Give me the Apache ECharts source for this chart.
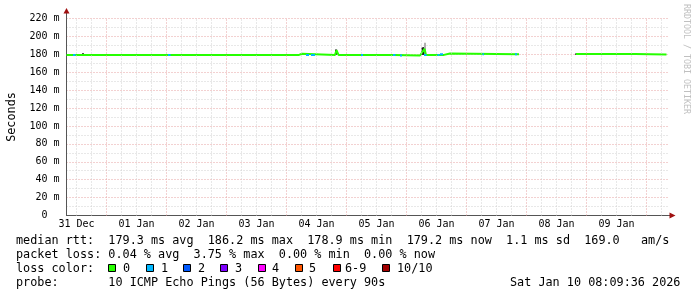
<!DOCTYPE html>
<html><head><meta charset="utf-8">
<script src="https://cdn.jsdelivr.net/npm/echarts@6/dist/echarts.min.js"></script>
<style>html,body{margin:0;padding:0;background:#fff;}#c{width:697px;height:297px;}</style>
</head><body><div id="c"></div>
<script>
// x values: hours since 31 Dec 00:00
const xStart = 8, xEnd = 248.8;
const dayLabels = ['31 Dec','01 Jan','02 Jan','03 Jan','04 Jan','05 Jan','06 Jan','07 Jan','08 Jan','09 Jan'];
const dayLabelHours = [12,36,60,84,108,132,156,180,204,228];
const yTickValues = [0,20,40,60,80,100,120,140,160,180,200,220];

// median rtt (ms), loss 0 colour; null = no data
const medianHours = [8.0,101.0,101.4,102.2,102.6,115.4,116.0,116.4,116.8,139.0,139.8,149.4,149.8,151.2,151.8,159.0,159.8,161.4,161.8,189.0,189.4,211.8,235.4,235.8,248.0];
const medianMs    = [179.35,179.35,180.6,180.6,179.35,179.35,184.6,184.6,179.35,179.35,178.7,178.7,179.35,186.2,179.35,179.35,181.0,181.0,180.2,180.2,null,180.3,180.3,179.7,179.7];

// loss 1/10 segments
const loss1Start = [10.6,48.6,103.8,105.8,125.8,138.6,141.4,151.0,156.4,157.4,174.4,187.4];
const loss1End   = [11.6,49.6,105.0,107.4,126.6,139.6,142.2,152.0,157.2,158.6,175.0,188.2];
const loss1Ms    = [179.35,179.35,179.35,179.35,179.35,179.35,178.7,179.35,179.35,180.2,180.2,180.2];

// smoke (ping spread)
const smokeHours = [14.6,115.8,150.4,150.8,151.4,211.8];
const smokeLow   = [179.6,179.4,179.4,179.4,183.0,179.5];
const smokeHigh  = [181.2,185.5,187.5,188.0,193.0,181.0];
const smokeDark  = [1,1,1,1,0,1];

const lossColors = ['#26ff00','#00b8ff','#0059ff','#7e00ff','#ff00ff','#ff5500','#ff0000','#a10000'];
const lossNames  = ['0','1','2','3','4','5','6-9','10/10'];

const legendLines = [
  'median rtt:  179.3 ms avg  186.2 ms max  178.9 ms min  179.2 ms now  1.1 ms sd  169.0   am/s',
  'packet loss: 0.04 % avg  3.75 % max  0.00 % min  0.00 % now',
  'loss color:',
  'probe:       10 ICMP Echo Pings (56 Bytes) every 90s'
];
const stampText = 'Sat Jan 10 08:09:36 2026';

const majorGrid = [], minorGrid = [];
for (let h = 12; h < xEnd; h += 6) { (h % 24 === 0 ? majorGrid : minorGrid).push(h); }

const medianData = medianHours.map((h,i)=>[h, medianMs[i]===null ? '-' : medianMs[i]]);
const loss1Data = [];
loss1Start.forEach((s,i)=>{ loss1Data.push([s, loss1Ms[i]]); loss1Data.push([loss1End[i], loss1Ms[i]]); loss1Data.push([loss1End[i]+0.01,'-']); });
const smokeData = smokeHours.map((h,i)=>[h, smokeLow[i], smokeHigh[i], smokeDark[i]]);

const MONO = 'DejaVu Sans Mono';
const FS = 11.8;
const gridLeft = 66.5, gridTop = 18.5, gridW = 602, gridH = 197;
const MAJOR = '#e6a3a3', MINOR = '#d0d0d0';

const graphics = [];
// axis extensions and arrows
graphics.push({type:'line', shape:{x1:66.5,y1:13,x2:66.5,y2:18.5}, style:{stroke:'#555',lineWidth:1}, z:10});
graphics.push({type:'line', shape:{x1:668.5,y1:215.5,x2:670,y2:215.5}, style:{stroke:'#555',lineWidth:1}, z:10});
graphics.push({type:'polygon', shape:{points:[[66.5,8],[63.5,13.5],[69.5,13.5]]}, style:{fill:'#a01010'}, z:10});
graphics.push({type:'polygon', shape:{points:[[675.5,215.5],[669.5,212.5],[669.5,218.5]]}, style:{fill:'#a01010'}, z:10});
// legend text
const lineY = [241, 255, 268.5, 283];
legendLines.forEach((t,i)=>{
  graphics.push({type:'text', x:16, y:lineY[i], style:{text:t, font:FS+'px "'+MONO+'"', fill:'#000', textVerticalAlign:'middle'}});
});
graphics.push({type:'text', x:510, y:lineY[3], style:{text:stampText, font:FS+'px "'+MONO+'"', fill:'#000', textVerticalAlign:'middle'}});
const boxX = [108,146,183,220,258,295,333,382];
const boxTextX = [123,161,198,235,272,309,345,397];
lossColors.forEach((c,i)=>{
  graphics.push({type:'rect', shape:{x:boxX[i]+0.5,y:264.5,width:7,height:7}, style:{fill:c, stroke:'#000', lineWidth:1}});
  graphics.push({type:'text', x:boxTextX[i], y:lineY[2], style:{text:lossNames[i], font:FS+'px "'+MONO+'"', fill:'#000', textVerticalAlign:'middle'}});
});
// watermark
graphics.push({type:'text', x:686, y:59, rotation:-Math.PI/2, style:{text:'RRDTOOL / TOBI OETIKER', font:'8.3px "'+MONO+'"', fill:'#c0c0c0', textAlign:'center', textVerticalAlign:'middle'}});

const chart = echarts.init(document.getElementById('c'), null, {renderer:'canvas'});
chart.setOption({
  animation:false,
  backgroundColor:'#fff',
  grid:{left:gridLeft, top:gridTop, width:gridW, height:gridH, containLabel:false, outerBoundsMode:'none'},
  xAxis:{
    type:'value', min:xStart, max:xEnd,
    axisLine:{show:true, lineStyle:{color:'#555', width:1}},
    axisTick:{show:false},
    splitLine:{show:false},
    axisLabel:{customValues:dayLabelHours, margin:4, fontFamily:MONO, fontSize:10, color:'#000',
      formatter:v=>{const k=dayLabelHours.indexOf(v); return k>=0?dayLabels[k]:'';}}
  },
  yAxis:{
    type:'value', min:0, max:220, interval:20,
    name:'Seconds', nameLocation:'middle', nameGap:49, nameRotate:90,
    nameTextStyle:{fontFamily:MONO, fontSize:FS, color:'#000'},
    axisLine:{show:true, lineStyle:{color:'#555', width:1}},
    axisTick:{show:false},
    axisLabel:{margin:7, fontFamily:MONO, fontSize:10, color:'#000',
      formatter:v=> yTickValues.indexOf(v)>=0 ? (v===0 ? '0  ' : v+' m') : ''},
    splitLine:{show:true, lineStyle:{color:MAJOR, width:1, type:[1,2]}},
    minorTick:{show:false, splitNumber:2},
    minorSplitLine:{show:true, lineStyle:{color:MINOR, width:1, type:[1,2]}}
  },
  series:[
    {type:'line', data:[[xStart,'-']], z:1, silent:true, symbol:'none',
      markLine:{silent:true, symbol:'none', label:{show:false}, animation:false,
        data: minorGrid.map(h=>({xAxis:h, lineStyle:{color:MINOR, width:1, type:[1,2]}}))
          .concat(majorGrid.map(h=>({xAxis:h, lineStyle:{color:MAJOR, width:1, type:[1,2]}})))}},
    {type:'custom', z:3, silent:true, data:smokeData,
      renderItem:(params, api)=>{
        const p1 = api.coord([api.value(0), api.value(1)]);
        const p2 = api.coord([api.value(0), api.value(2)]);
        return {type:'rect', shape:{x:p1[0]-1, y:p2[1], width:2, height:p1[1]-p2[1]},
          style:{fill: api.value(3)===1 ? '#1a1a1a' : '#b0b0b0'}};
      }},
    {type:'line', z:4, data:medianData, symbol:'none', connectNulls:false,
      lineStyle:{color:lossColors[0], width:2}},
    {type:'line', z:5, data:loss1Data, symbol:'none', connectNulls:false,
      lineStyle:{color:lossColors[1], width:2}}
  ],
  graphic:graphics
});
</script></body></html>
